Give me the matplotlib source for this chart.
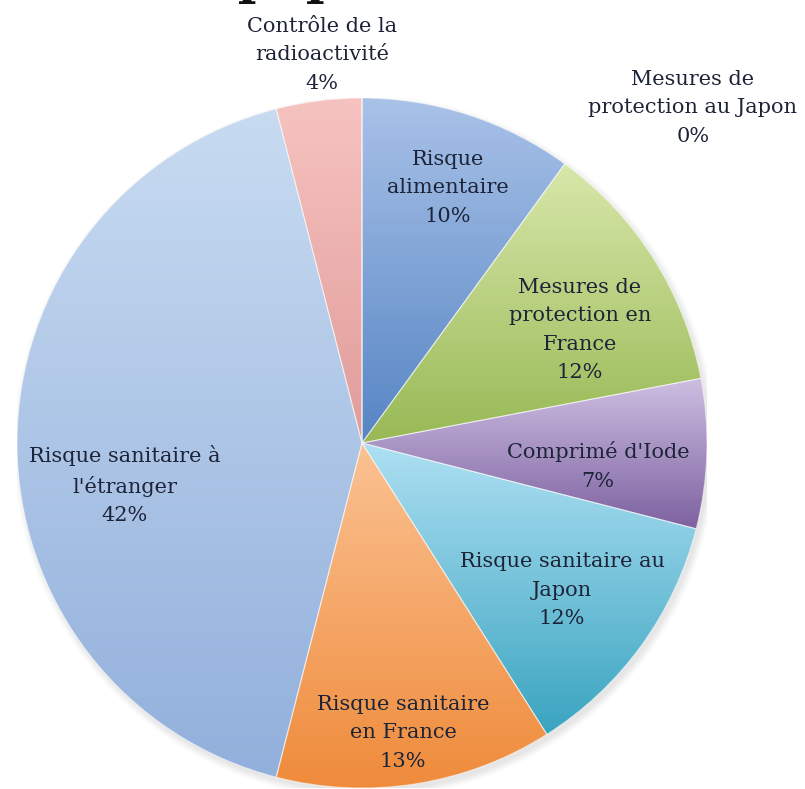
import numpy as np
import matplotlib
matplotlib.use('Agg')
import matplotlib.pyplot as plt
from matplotlib.colors import LinearSegmentedColormap
from matplotlib.patches import Circle

labels = ["Risque\nalimentaire", "Mesures de\nprotection en\nFrance", "Comprimé d'Iode",
          "Risque sanitaire au\nJapon", "Risque sanitaire\nen France",
          "Risque sanitaire à\nl'étranger", "Contrôle de la\nradioactivité",
          "Mesures de\nprotection au Japon"]
values = [10, 12, 7, 12, 13, 42, 4, 0]
# gradient colours, top -> bottom
tops = ["#a9c2e8", "#d8e7aa", "#cdbfe2", "#aee0f3", "#fbc293", "#c8dbf1", "#f6c3c0", "#f6c3c0"]
bottoms = ["#5685c4", "#98b955", "#7d61a0", "#3aa4c0", "#ef8b3b", "#92b0dc", "#e09c9a", "#e09c9a"]
# label centres in pixels of the original picture
label_px = [(448, 188), (580, 330), (598, 466), (562, 590), (403, 733),
            (125, 485), (322, 55), (693, 108)]

W, H = 805, 789
cx, cy, R = 362, 443, 345

fig = plt.figure(figsize=(W / 100, H / 100), dpi=100)
ax = fig.add_axes([(cx - R) / W, (H - cy - R) / H, 2 * R / W, 2 * R / H])
ax.set_xlim(-1, 1)
ax.set_ylim(-1, 1)
ax.axis('off')

# soft shadow
for k, a in enumerate([0.05, 0.05, 0.05, 0.04]):
    ax.add_patch(Circle((0.008, -0.012), 1.0 + 0.006 * k, color='#808080', alpha=a, lw=0, zorder=0))

wedges, _ = ax.pie(values, startangle=90, counterclock=False, radius=1.0,
                   wedgeprops=dict(linewidth=0.8, edgecolor=(1, 1, 1, 0.5)))

for w, v, ct, cb in zip(wedges, values, tops, bottoms):
    w.set_zorder(2)
    if v == 0:
        continue
    ext = w.get_path().get_extents()
    cmap = LinearSegmentedColormap.from_list('g', [cb, ct])
    grad = np.linspace(0, 1, 256).reshape(-1, 1)
    im = ax.imshow(grad, cmap=cmap, extent=[ext.x0, ext.x1, ext.y0, ext.y1],
                   origin='lower', aspect='auto', zorder=1, interpolation='bilinear')
    im.set_clip_path(w)
    w.set_facecolor('none')

ax.set_xlim(-1, 1)
ax.set_ylim(-1, 1)

font = 'DejaVu Serif'
for lab, v, (px, py) in zip(labels, values, label_px):
    ax.text((px - cx) / R, (cy - py) / R, f"{lab}\n{v}%", ha='center', va='center',
            fontsize=15, family=font, color='#1d2438', linespacing=1.62, zorder=5)

# title, cut off by the top edge as in the source image
fig.text(540 / W, 1 + 7 / H, "Thèmes des questions de la population", ha='right', va='baseline',
         fontsize=36, fontweight='bold', family=font, color='#111111')

fig.savefig('out.png', dpi=100, facecolor='white')
